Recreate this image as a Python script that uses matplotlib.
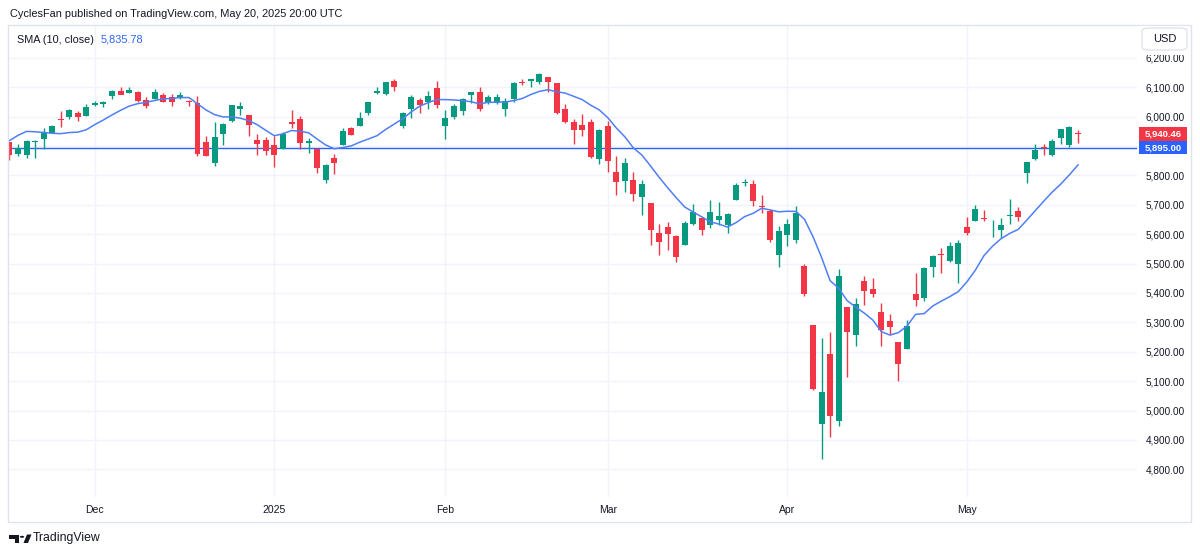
import numpy as np
import pandas as pd
import matplotlib
matplotlib.use("Agg")
import matplotlib.pyplot as plt
from matplotlib.patches import Rectangle, FancyBboxPatch, Circle, Polygon
from matplotlib.transforms import blended_transform_factory

# ---- daily bars, S&P 500 -------------------------------------------------
dates = [
    "2024-11-15", "2024-11-18", "2024-11-19", "2024-11-20", "2024-11-21", "2024-11-22",
    "2024-11-25", "2024-11-26", "2024-11-27", "2024-11-29",
    "2024-12-02", "2024-12-03", "2024-12-04", "2024-12-05", "2024-12-06", "2024-12-09",
    "2024-12-10", "2024-12-11", "2024-12-12", "2024-12-13", "2024-12-16", "2024-12-17",
    "2024-12-18", "2024-12-19", "2024-12-20", "2024-12-23", "2024-12-24", "2024-12-26",
    "2024-12-27", "2024-12-30", "2024-12-31",
    "2025-01-02", "2025-01-03", "2025-01-06", "2025-01-07", "2025-01-08", "2025-01-10",
    "2025-01-13", "2025-01-14", "2025-01-15", "2025-01-16", "2025-01-17", "2025-01-21",
    "2025-01-22", "2025-01-23", "2025-01-24", "2025-01-27", "2025-01-28", "2025-01-29",
    "2025-01-30", "2025-01-31",
    "2025-02-03", "2025-02-04", "2025-02-05", "2025-02-06", "2025-02-07", "2025-02-10",
    "2025-02-11", "2025-02-12", "2025-02-13", "2025-02-14", "2025-02-18", "2025-02-19",
    "2025-02-20", "2025-02-21", "2025-02-24", "2025-02-25", "2025-02-26", "2025-02-27",
    "2025-02-28",
    "2025-03-03", "2025-03-04", "2025-03-05", "2025-03-06", "2025-03-07", "2025-03-10",
    "2025-03-11", "2025-03-12", "2025-03-13", "2025-03-14", "2025-03-17", "2025-03-18",
    "2025-03-19", "2025-03-20", "2025-03-21", "2025-03-24", "2025-03-25", "2025-03-26",
    "2025-03-27", "2025-03-28", "2025-03-31",
    "2025-04-01", "2025-04-02", "2025-04-03", "2025-04-04", "2025-04-07", "2025-04-08",
    "2025-04-09", "2025-04-10", "2025-04-11", "2025-04-14", "2025-04-15", "2025-04-16",
    "2025-04-17", "2025-04-21", "2025-04-22", "2025-04-23", "2025-04-24", "2025-04-25",
    "2025-04-28", "2025-04-29", "2025-04-30",
    "2025-05-01", "2025-05-02", "2025-05-05", "2025-05-06", "2025-05-07", "2025-05-08",
    "2025-05-09", "2025-05-12", "2025-05-13", "2025-05-14", "2025-05-15", "2025-05-16",
    "2025-05-19", "2025-05-20",
]

opens = [
    5912.79, 5874.17, 5869.14, 5914.64, 5924.48, 5944.36, 5992.28, 6000.03, 6014.11, 6003.98,
    6040.11, 6042.97, 6069.39, 6089.03, 6081.38, 6083.01, 6057.59, 6060.15, 6074.29, 6068.17,
    6063.79, 6052.55, 6047.65, 5912.71, 5842.00, 5940.25, 5984.63, 6024.97, 6006.17, 5920.67,
    5919.74,
    5903.26, 5891.07, 5982.81, 5993.26, 5910.66, 5890.66, 5782.83, 5859.23, 5905.21, 5961.95,
    5969.35, 6014.12, 6081.39, 6076.32, 6121.43, 5969.04, 6026.97, 6057.70, 6050.75, 6096.79,
    5969.65, 5998.14, 6020.45, 6072.22, 6083.13, 6046.40, 6049.32, 6025.08, 6060.59, 6115.52,
    6121.60, 6117.76, 6134.50, 6114.10, 6026.69, 5982.73, 5970.87, 5981.88, 5856.74,
    5968.33, 5811.98, 5781.35, 5785.87, 5726.01, 5705.37, 5603.65, 5624.84, 5594.45, 5563.85,
    5635.60, 5654.53, 5632.37, 5646.92, 5630.73, 5718.08, 5775.86, 5771.66, 5695.64, 5679.69,
    5527.91,
    5597.53, 5580.76, 5492.74, 5292.14, 4953.79, 5193.57, 4965.28, 5353.15, 5255.56, 5441.96,
    5411.99, 5335.75, 5305.45, 5232.94, 5207.67, 5395.92, 5381.38, 5489.73, 5529.22, 5508.87,
    5499.44,
    5625.14, 5645.94, 5655.32, 5605.88, 5614.54, 5663.43, 5679.84, 5807.05, 5854.62, 5893.27,
    5869.79, 5929.09, 5902.88, 5944.66,
]

highs = [
    5915.28, 5908.12, 5920.89, 5920.64, 5962.16, 5972.90, 6020.75, 6025.42, 6020.16, 6044.17,
    6053.58, 6052.06, 6089.84, 6099.97, 6099.94, 6088.51, 6065.40, 6092.59, 6079.68, 6078.58,
    6085.19, 6057.68, 6070.67, 5935.52, 5982.06, 5978.25, 6040.10, 6049.75, 6006.17, 5940.79,
    5929.74,
    5935.09, 5949.34, 6021.04, 6000.68, 5927.89, 5890.66, 5837.55, 5871.92, 5960.61, 5964.69,
    6014.96, 6051.51, 6100.81, 6118.73, 6128.18, 6017.17, 6074.54, 6062.83, 6086.64, 6120.91,
    6022.13, 6042.48, 6062.86, 6084.03, 6101.28, 6073.38, 6076.28, 6063.00, 6116.91, 6127.47,
    6129.63, 6147.43, 6134.50, 6114.82, 6043.65, 5992.65, 6009.82, 5993.69, 5959.40,
    5986.09, 5865.08, 5860.59, 5812.08, 5783.01, 5705.37, 5636.30, 5642.19, 5597.78, 5645.27,
    5703.52, 5654.53, 5715.33, 5711.15, 5670.84, 5775.14, 5787.34, 5783.62, 5732.28, 5685.89,
    5627.56,
    5650.57, 5695.31, 5499.53, 5292.14, 5246.57, 5267.47, 5481.34, 5353.15, 5381.46, 5459.46,
    5450.41, 5367.24, 5328.31, 5232.94, 5309.60, 5469.69, 5489.40, 5528.11, 5553.66, 5571.95,
    5581.84,
    5658.91, 5700.70, 5683.51, 5649.67, 5654.20, 5720.10, 5691.68, 5844.19, 5906.63, 5906.60,
    5924.51, 5958.62, 5968.61, 5953.06,
]

lows = [
    5853.01, 5865.95, 5858.74, 5860.58, 5891.34, 5944.36, 5963.91, 5992.27, 5984.87, 6003.98,
    6035.33, 6033.39, 6061.06, 6079.98, 6079.98, 6048.63, 6029.89, 6060.15, 6051.25, 6035.77,
    6059.14, 6035.19, 5867.79, 5866.07, 5832.30, 5902.57, 5981.44, 6007.37, 5932.95, 5869.16,
    5868.86,
    5829.53, 5888.66, 5960.01, 5890.68, 5874.78, 5809.76, 5773.38, 5805.42, 5905.21, 5936.33,
    5969.35, 6006.88, 6076.13, 6074.67, 6088.74, 5962.92, 5994.63, 6012.96, 6027.46, 6030.93,
    5923.93, 5990.87, 6007.06, 6046.83, 6019.96, 6044.84, 6042.34, 6003.00, 6050.95, 6107.80,
    6099.51, 6111.15, 6084.59, 6008.56, 5977.83, 5908.49, 5932.69, 5858.78, 5837.66,
    5810.91, 5732.59, 5742.35, 5711.64, 5666.29, 5564.02, 5528.41, 5546.09, 5504.65, 5563.85,
    5631.12, 5597.76, 5622.20, 5632.33, 5603.10, 5718.08, 5764.78, 5694.41, 5670.94, 5572.42,
    5488.73,
    5558.52, 5571.48, 5390.83, 5069.90, 4835.04, 4910.42, 4948.43, 5115.27, 5220.77, 5358.02,
    5386.44, 5220.79, 5255.58, 5101.63, 5207.67, 5356.09, 5371.96, 5455.86, 5468.64, 5505.70,
    5433.24,
    5597.35, 5645.01, 5643.39, 5590.67, 5586.14, 5635.74, 5644.00, 5775.16, 5853.96, 5868.21,
    5867.44, 5907.36, 5895.69, 5909.26,
]

closes = [
    5870.62, 5893.62, 5916.98, 5917.11, 5948.71, 5969.34, 5987.37, 6021.63, 5998.74, 6032.38,
    6047.15, 6049.88, 6086.49, 6075.11, 6090.27, 6052.85, 6034.91, 6084.19, 6051.25, 6051.09,
    6074.08, 6050.61, 5872.16, 5867.08, 5930.85, 5974.07, 6040.04, 6037.59, 5970.84, 5906.94,
    5881.63,
    5868.55, 5942.47, 5975.38, 5909.03, 5918.25, 5827.04, 5836.22, 5842.91, 5949.91, 5937.34,
    5996.66, 6049.24, 6086.37, 6118.71, 6101.24, 6012.28, 6067.70, 6039.31, 6071.17, 6040.53,
    5994.57, 6037.88, 6061.48, 6083.57, 6025.99, 6066.44, 6068.50, 6051.97, 6115.07, 6114.63,
    6129.58, 6144.15, 6117.52, 6013.13, 5983.25, 5955.25, 5956.06, 5861.57, 5954.50,
    5849.72, 5778.15, 5842.63, 5738.52, 5770.20, 5614.56, 5572.07, 5599.30, 5521.52, 5638.94,
    5675.12, 5614.66, 5675.29, 5662.89, 5667.56, 5767.57, 5776.65, 5712.20, 5693.31, 5580.94,
    5611.85,
    5633.07, 5670.97, 5396.52, 5074.08, 5062.25, 4982.77, 5456.90, 5268.05, 5363.36, 5405.97,
    5396.63, 5275.70, 5282.70, 5158.20, 5287.76, 5375.86, 5484.77, 5525.21, 5528.75, 5560.83,
    5569.06,
    5604.14, 5686.67, 5650.38, 5606.91, 5631.28, 5663.94, 5659.91, 5844.19, 5886.55, 5892.58,
    5916.93, 5958.38, 5963.60, 5940.46,
]

# closes of the 9 sessions before the first visible bar (needed by the SMA)
prior_closes = [5712.69, 5782.76, 5929.04, 5973.10, 5995.54, 6001.35, 5983.99, 5985.38, 5949.17]

sma_len = 10
level = 5895.00                     # horizontal line drawn on the chart
price_ticks = list(range(4800, 6201, 100))
month_labels = ["Dec", "2025", "Feb", "Mar", "Apr", "May"]

GREEN = "#089981"
RED = "#F23645"
BLUE = "#2962FF"
SMA_COL = "#4F7FF6"
TXT = "#131722"
GRID = "#F0F3FA"
FONT = "Liberation Sans"

W, H = 1200, 555


def fx(px):
    return px / W


def fy(py):
    return 1 - py / H


o = np.array(opens)
h = np.array(highs)
l = np.array(lows)
c = np.array(closes)
x = np.arange(len(c))

sma = pd.Series(prior_closes + closes).rolling(sma_len).mean().iloc[len(prior_closes):].to_numpy()

fig = plt.figure(figsize=(W / 100, H / 100), dpi=100)
fig.patch.set_facecolor("white")

# outer chart frame
fig.patches.append(Rectangle((fx(8), fy(522)), fx(1191) - fx(8), fy(25) - fy(522),
                             transform=fig.transFigure, fill=False, ec="#E0E3EB", lw=1, zorder=0))

ax = fig.add_axes([fx(9), fy(497), fx(1137) - fx(9), fy(25) - fy(497)])
ax.set_facecolor("white")
for s in ax.spines.values():
    s.set_visible(False)

# candles
up = c >= o
cols = np.where(up, GREEN, RED)
ax.vlines(x, l, h, colors=cols, lw=1, zorder=3)
body_lo = np.minimum(o, c)
body_h = np.maximum(np.abs(c - o), 3.0)
ax.bar(x, body_h, bottom=body_lo, width=0.7, color=cols, linewidth=0, zorder=4)

ax.axhline(level, color=BLUE, lw=1, zorder=2)
ax.plot(x, sma, color=SMA_COL, lw=1.1, zorder=5)

ax.set_xlim(-0.05, 131.9)
ax.set_ylim(4705.7, 6312)

# month ticks at the first session of each month
months = pd.to_datetime(pd.Series(dates)).dt.to_period("M")
first_idx = [i for i in range(1, len(dates)) if months[i] != months[i - 1]]
ax.set_xticks(first_idx)
ax.set_xticklabels(month_labels, fontsize=7.5, color=TXT, family=FONT)
ax.tick_params(axis="x", length=0, pad=6)

# price scale; the 5,900 label sits under the level tag, so it is left blank
ax.yaxis.tick_right()
ax.set_yticks(price_ticks)
ax.set_yticklabels(["" if abs(p - level) < 50 else f"{p:,.2f}" for p in price_ticks],
                   fontsize=7.2, color=TXT, family=FONT)
ax.tick_params(axis="y", length=0, pad=6)
ax.grid(True, color=GRID, lw=1, zorder=0)
ax.set_axisbelow(True)

# cover the top of the price scale (behind the USD button)
fig.patches.append(Rectangle((fx(1138), fy(55)), fx(1190) - fx(1138), fy(26) - fy(55),
                             transform=fig.transFigure, fc="white", ec="none", zorder=2))
usd = FancyBboxPatch((fx(1142), fy(50)), fx(1187) - fx(1142), fy(28) - fy(50),
                     boxstyle="round,pad=0,rounding_size=0.006", transform=fig.transFigure,
                     fc="white", ec="#E0E3EB", lw=1, zorder=3)
fig.patches.append(usd)
fig.text(fx(1164.5), fy(39.5), "USD", ha="center", va="center", fontsize=8,
         color=TXT, family=FONT, zorder=4)

# last price / level tags on the price scale
tr = blended_transform_factory(fig.transFigure, ax.transData)
tag_h = 13.5 / ((497 - 25) / (6312 - 4705.7))
for val, col in [(c[-1], RED), (level, BLUE)]:
    fig.patches.append(Rectangle((fx(1139), val - tag_h / 2), fx(1187) - fx(1139), tag_h,
                                 transform=tr, fc=col, ec="none", zorder=3))
    fig.text(fx(1163), val, f"{val:,.2f}", transform=tr, ha="center", va="center",
             fontsize=6.8, color="white", family=FONT, fontweight="bold", zorder=4)

# header and legend
fig.text(fx(10), fy(14), "CyclesFan published on TradingView.com, May 20, 2025 20:00 UTC",
         ha="left", va="center", fontsize=7.9, color=TXT, family=FONT)
fig.text(fx(17), fy(40), f"SMA ({sma_len}, close)", ha="left", va="center",
         fontsize=7.8, color=TXT, family=FONT)
fig.text(fx(101), fy(40), f"{sma[-1]:,.2f}", ha="left", va="center",
         fontsize=7.8, color=BLUE, family=FONT)

# TradingView logo + wordmark
logo = "#131722"
fig.patches.append(Rectangle((fx(9), fy(539)), fx(19) - fx(9), fy(534.5) - fy(539),
                             transform=fig.transFigure, fc=logo, ec="none"))
fig.patches.append(Rectangle((fx(14.5), fy(543)), fx(19) - fx(14.5), fy(534.5) - fy(543),
                             transform=fig.transFigure, fc=logo, ec="none"))
fig.patches.append(Circle((fx(22), fy(536.8)), 2.2 / W, transform=fig.transFigure,
                          fc=logo, ec="none"))
fig.patches.append(Polygon([(fx(23.5), fy(543)), (fx(28), fy(543)), (fx(31.5), fy(534.5)),
                            (fx(27), fy(534.5))], closed=True, transform=fig.transFigure,
                           fc=logo, ec="none"))
fig.text(fx(33), fy(538.5), "TradingView", ha="left", va="center", fontsize=8.8,
         color=TXT, family=FONT)

fig.savefig("out.png", dpi=100, facecolor="white")
